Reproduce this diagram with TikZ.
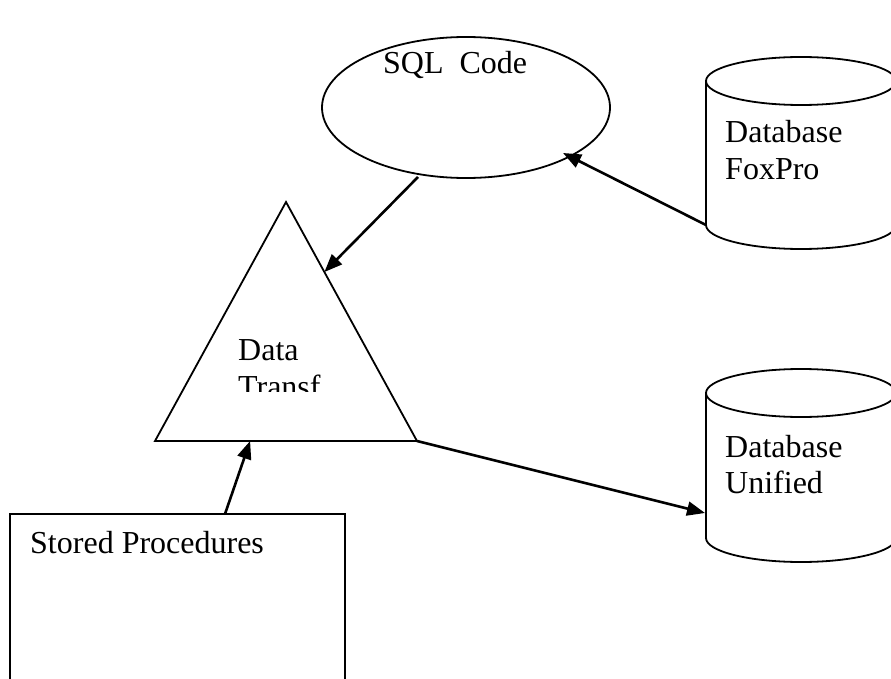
\documentclass[tikz,border=0pt]{standalone}
\usepackage{fontspec}
\setmainfont{Liberation Serif}
\usetikzlibrary{shapes.geometric,arrows.meta,calc}
\begin{document}
\begin{tikzpicture}[x=1pt,y=-1pt,
  shapeline/.style={line width=1.8pt},
  flow/.style={line width=2.6pt,-{Triangle[length=18pt,width=14pt]}},
  lbl/.style={anchor=base west,inner sep=0pt,font=\fontsize{32}{37}\selectfont},
]
\useasboundingbox (0,0) rectangle (891,679);
\clip (0,0) rectangle (891,679);

% SQL code ellipse
\node[shapeline,draw,ellipse,minimum width=288pt,minimum height=141pt,inner sep=0pt] (sql) at (466,107.5) {};
\node[lbl] (sqltext) at (383,74) {SQL\ \ Code};

% data transformation triangle
\coordinate (apex) at (286,202);
\coordinate (tribl) at (155,441);
\coordinate (tribr) at (417,441);
\draw[shapeline,line join=miter] (apex) -- (tribl) -- (tribr) -- cycle;
\node[lbl] (datatext) at (238,360) {Data};
\begin{scope}
  \clip (150,300) rectangle (430,391.5);
  \node[lbl] (transftext) at (238,397) {Transf};
\end{scope}

% FoxPro database cylinder
\draw[shapeline] (801,81) ellipse [x radius=95, y radius=24];
\draw[shapeline] (706,81) -- (706,225) arc[start angle=180,end angle=0,x radius=95,y radius=24] -- (896,81);
\coordinate (foxbl) at (706,225);
\node[lbl] (foxtext1) at (725,143) {Database};
\node[lbl] (foxtext2) at (725,180) {FoxPro};

% unified database cylinder
\draw[shapeline] (801,393) ellipse [x radius=95, y radius=24];
\draw[shapeline] (706,393) -- (706,538) arc[start angle=180,end angle=0,x radius=95,y radius=24] -- (896,393);
\coordinate (unileft) at (705,513);
\node[lbl] (unitext1) at (725,457) {Database};
\node[lbl] (unitext2) at (725,493) {Unified};

% stored procedures box
\node[shapeline,draw,rectangle,minimum width=335pt,minimum height=190pt,inner sep=0pt] (sp) at (177.5,609) {};
\node[lbl] (sptext) at (30,553) {Stored Procedures};

% connectors
\coordinate (sqlout) at (418,177);
\coordinate (sqlin) at (563,153);
\coordinate (trin) at ($(apex)!0.293!(tribr)$);
\coordinate (trbase) at ($(tribl)!0.363!(tribr)$);
\coordinate (sptop) at (225,514);

\draw[flow] (foxbl) -- (sqlin);
\draw[flow] (sqlout) -- (trin);
\draw[flow] (tribr) -- (unileft);
\draw[flow] (sptop) -- (trbase);
\end{tikzpicture}
\end{document}
